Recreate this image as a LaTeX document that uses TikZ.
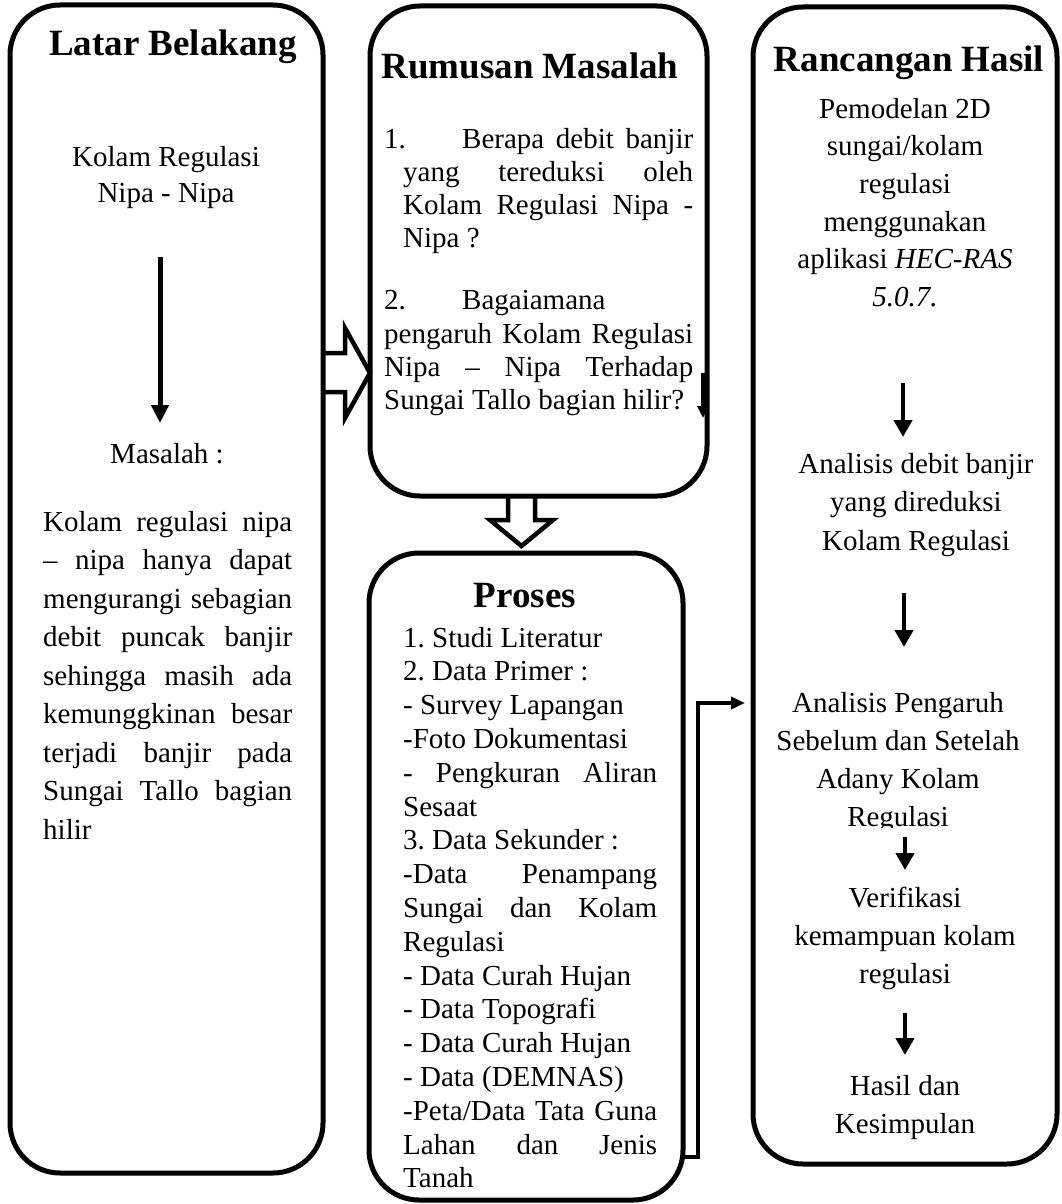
\documentclass[tikz,border=0pt]{standalone}
\usepackage{fontspec}
\setmainfont{Liberation Serif}
\usetikzlibrary{arrows.meta}
\frenchspacing
\newcommand{\txtblk}[3]{\parbox[t]{#1}{\fontsize{29}{#2}\selectfont #3}}
\newcommand{\ctrblk}[3]{\parbox[t]{#1}{\centering\fontsize{29}{#2}\selectfont #3}}
\begin{document}
\begin{tikzpicture}[x=1pt,y=-1pt,
  box/.style={draw, line width=5pt, rounded corners=50pt, inner sep=0pt, outer sep=0pt},
  ttl/.style={inner sep=0pt, anchor=base, font=\fontsize{37}{44}\selectfont\bfseries},
  txt/.style={inner sep=0pt, anchor=base},
  txtw/.style={inner sep=0pt, anchor=base west},
  downarr/.style={line width=4.5pt, -{Triangle[width=18pt,length=17pt]}},
  smallarr/.style={line width=3.5pt, -{Triangle[width=11pt,length=12pt]}},
  conn/.style={line width=4pt, -{Triangle[width=12pt,length=14pt]}},
  hollow/.style={line width=4.5pt, line join=miter}
]
\fill[white] (0,0) rectangle (1061,1204);
\useasboundingbox (0,0) rectangle (1061,1204);

% boxes
\node[box, minimum width=313pt, minimum height=1168pt] (latar) at (166.5,589) {};
\node[box, minimum width=337pt, minimum height=490pt] (rumusan) at (538.5,251) {};
\node[box, minimum width=314pt, minimum height=647pt] (proses) at (526,876.5) {};
\node[box, minimum width=304pt, minimum height=1157pt] (hasil) at (905,585.5) {};

% titles
\node[ttl] (tlatar) at (173,56) {Latar Belakang};
\node[ttl] (trumusan) at (530,79) {Rumusan Masalah};
\node[ttl] (tproses) at (525,607) {Proses};
\node[ttl] (thasil) at (909,72) {Rancangan Hasil};

% Latar Belakang contents
\node[txt] (kolam) at (166,166) {\ctrblk{300pt}{36pt}{Kolam Regulasi\\Nipa - Nipa}};
\coordinate (la1) at (160,257);
\coordinate (la2) at (160,423);
\draw[line width=5pt, -{Triangle[width=17pt,length=18pt]}] (la1) -- (la2);
\node[txt] (masalah) at (167,463) {\fontsize{29}{36}\selectfont Masalah :};
\node[txtw] (lbpara) at (43,531) {\txtblk{249pt}{38.5pt}{%
\makebox[249pt][s]{Kolam regulasi nipa}\\
\makebox[249pt][s]{– nipa hanya dapat}\\
\makebox[249pt][s]{mengurangi sebagian}\\
\makebox[249pt][s]{debit puncak banjir}\\
\makebox[249pt][s]{sehingga masih ada}\\
\makebox[249pt][s]{kemunggkinan besar}\\
\makebox[249pt][s]{terjadi banjir pada}\\
\makebox[249pt][s]{Sungai Tallo bagian}\\
hilir}};

% Rumusan Masalah contents
\node[txtw] (rmlist) at (384,148) {\txtblk{310pt}{33.3pt}{%
\makebox[78pt][l]{1.}\makebox[231pt][s]{Berapa debit banjir}\\
\hspace*{19pt}\makebox[290pt][s]{yang tereduksi oleh}\\
\hspace*{19pt}\makebox[290pt][s]{Kolam Regulasi Nipa -}\\
\hspace*{19pt}Nipa ?\\[28.7pt]
\makebox[78pt][l]{2.}Bagaiamana\\
\makebox[309pt][s]{pengaruh Kolam Regulasi}\\
\makebox[309pt][s]{Nipa – Nipa Terhadap}\\
Sungai Tallo bagian hilir?}};
\coordinate (rs1) at (703,373);
\coordinate (rs2) at (703,418);
\draw[smallarr] (rs1) -- (rs2);

% Proses contents
\node[txtw] (prlist) at (403,647) {\txtblk{254pt}{33.8pt}{%
1. Studi Literatur\\
2. Data Primer :\\
- Survey Lapangan\\
-Foto Dokumentasi\\
\makebox[254pt][s]{- Pengkuran Aliran}\\
Sesaat\\
3. Data Sekunder :\\
\makebox[254pt][s]{-Data Penampang}\\
\makebox[254pt][s]{Sungai dan Kolam}\\
Regulasi\\
- Data Curah Hujan\\
- Data Topografi\\
- Data Curah Hujan\\
- Data (DEMNAS)\\
\makebox[254pt][s]{-Peta/Data Tata Guna}\\
\makebox[254pt][s]{Lahan dan Jenis}\\
Tanah}};

% Rancangan Hasil contents
\node[txt] (h1) at (905,118) {\ctrblk{290pt}{37.7pt}{Pemodelan 2D\\sungai/kolam\\regulasi\\menggunakan\\aplikasi \textit{HEC-RAS}\\\textit{5.0.7.}}};
\node[txt] (h2) at (916,473) {\ctrblk{290pt}{38.5pt}{Analisis debit banjir\\yang direduksi\\Kolam Regulasi}};
\begin{scope}
\clip (760,660) rectangle (1050,827);
\node[txt] (h3) at (898,712) {\ctrblk{290pt}{38pt}{Analisis Pengaruh\\Sebelum dan Setelah\\Adany Kolam\\Regulasi}};
\end{scope}
\node[txt] (h4) at (905,907) {\ctrblk{290pt}{38pt}{Verifikasi\\kemampuan kolam\\regulasi}};
\node[txt] (h5) at (905,1095) {\ctrblk{290pt}{38pt}{Hasil dan\\Kesimpulan}};

\coordinate (a1s) at (903,383); \coordinate (a1e) at (903,437);
\coordinate (a2s) at (904,593); \coordinate (a2e) at (904,647);
\coordinate (a3s) at (905,837); \coordinate (a3e) at (905,870);
\coordinate (a4s) at (905,1013); \coordinate (a4e) at (905,1055);
\draw[downarr] (a1s) -- (a1e);
\draw[downarr] (a2s) -- (a2e);
\draw[downarr] (a3s) -- (a3e);
\draw[downarr] (a4s) -- (a4e);

% hollow arrows
\draw[hollow] (323,353) -- (345,353) -- (345,328) -- (370,373) -- (345,418) -- (345,392) -- (323,392);
\draw[hollow] (508,496) -- (508,520) -- (490,520) -- (521.5,546) -- (553,520) -- (535,520) -- (535,496);

% connector from Proses to Rancangan Hasil
\coordinate (c1) at (698,1157);
\coordinate (c2) at (698,703);
\coordinate (c3) at (745,703);
\draw[conn] (proses.east |- c1) -- (c1) -- (c2) -- (c3);
\end{tikzpicture}
\end{document}
